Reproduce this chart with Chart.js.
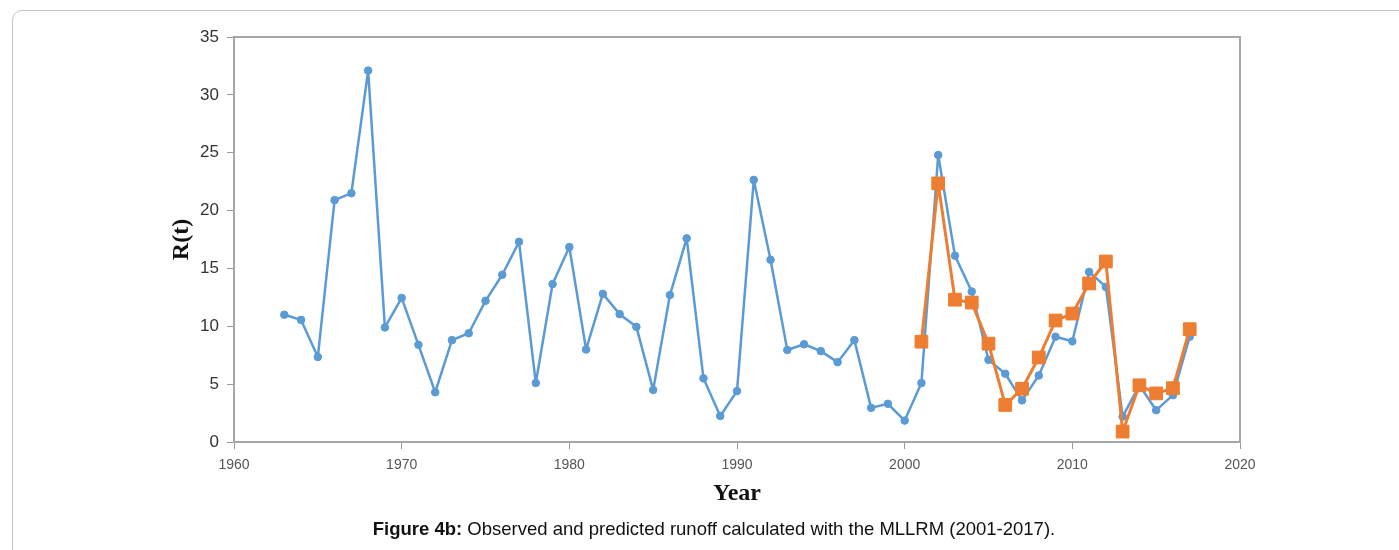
<!DOCTYPE html>
<html>
<head>
<meta charset="utf-8">
<script src="https://cdn.jsdelivr.net/npm/chart.js@4.4.1/dist/chart.umd.min.js"></script>
<style>
  html, body { margin: 0; padding: 0; background: #ffffff; width: 1399px; height: 550px; overflow: hidden; }
  #card { position: absolute; left: 12px; top: 10px; width: 1420px; height: 580px; border: 1px solid #c4c4c4; border-radius: 10px; box-sizing: border-box; }
  #chart { position: absolute; left: 0; top: 0; }
  #caption { position: absolute; left: 0; width: 1428px; top: 518px; text-align: center; font-family: "Liberation Sans", Arial, sans-serif; font-size: 18.5px; line-height: 22px; color: #111; }
</style>
</head>
<body>
<div id="card"></div>
<canvas id="chart" width="1399" height="550"></canvas>
<div id="caption"><b>Figure 4b:</b> Observed and predicted runoff calculated with the MLLRM (2001-2017).</div>
<script>
// Observed runoff R(t), 1963-2017
const observedYears = [1963,1964,1965,1966,1967,1968,1969,1970,1971,1972,1973,1974,1975,1976,1977,1978,1979,1980,
  1981,1982,1983,1984,1985,1986,1987,1988,1989,1990,1991,1992,1993,1994,1995,1996,1997,1998,1999,2000,
  2001,2002,2003,2004,2005,2006,2007,2008,2009,2010,2011,2012,2013,2014,2015,2016,2017];
const observedValues = [11.0,10.55,7.35,20.9,21.5,32.1,9.9,12.45,8.4,4.3,8.8,9.4,12.2,14.45,17.3,5.1,13.65,16.85,
  8.0,12.8,11.05,9.95,4.5,12.7,17.6,5.5,2.25,4.4,22.65,15.75,7.95,8.45,7.85,6.9,8.8,2.95,3.3,1.85,
  5.1,24.8,16.1,13.0,7.1,5.9,3.6,5.75,9.1,8.7,14.7,13.4,2.2,4.9,2.75,4.05,9.1];
// Predicted runoff (MLLRM), 2001-2017
const predictedYears = [2001,2002,2003,2004,2005,2006,2007,2008,2009,2010,2011,2012,2013,2014,2015,2016,2017];
const predictedValues = [8.67,22.35,12.3,12.05,8.5,3.2,4.6,7.3,10.5,11.1,13.7,15.6,0.9,4.9,4.2,4.65,9.75];
// Axis ticks
const xTicks = [1960,1970,1980,1990,2000,2010,2020];
const yTicks = [0,5,10,15,20,25,30,35];

const toPoints = (xs, ys) => xs.map((x, i) => ({ x: x, y: ys[i] }));

const frame = {
  id: 'frame',
  afterDraw(chart) {
    const { ctx, chartArea: a } = chart;
    ctx.save();
    ctx.strokeStyle = '#a6a6a6';
    ctx.lineWidth = 2;
    ctx.beginPath();
    ctx.moveTo(a.left, a.top);
    ctx.lineTo(a.right, a.top);
    ctx.lineTo(a.right, a.bottom);
    ctx.stroke();
    ctx.restore();
  }
};

new Chart(document.getElementById('chart'), {
  type: 'line',
  data: {
    datasets: [
      {
        label: 'Observed',
        order: 2,
        data: toPoints(observedYears, observedValues),
        borderColor: '#5B9BD5',
        backgroundColor: '#5B9BD5',
        borderWidth: 2.5,
        borderJoinStyle: 'round',
        pointRadius: 3.8,
        pointHoverRadius: 3.8,
        pointBorderWidth: 1,
        pointStyle: 'circle',
        tension: 0
      },
      {
        label: 'Predicted',
        order: 1,
        data: toPoints(predictedYears, predictedValues),
        borderColor: '#ED7D31',
        backgroundColor: '#ED7D31',
        borderWidth: 3,
        borderJoinStyle: 'round',
        pointRadius: 9,
        pointHoverRadius: 9,
        pointBorderWidth: 1,
        pointStyle: 'rect',
        tension: 0
      }
    ]
  },
  options: {
    responsive: false,
    animation: false,
    devicePixelRatio: 1,
    layout: { padding: { left: 167, right: 159, top: 37, bottom: 42 } },
    plugins: { legend: { display: false }, tooltip: { enabled: false } },
    scales: {
      x: {
        type: 'linear',
        min: xTicks[0],
        max: xTicks[xTicks.length - 1],
        afterFit(s) { s.height = 66; },
        afterBuildTicks(s) { s.ticks = xTicks.map(v => ({ value: v })); },
        grid: { drawOnChartArea: false, drawTicks: true, tickLength: 7, color: '#999', lineWidth: 1 },
        border: { display: true, color: '#a6a6a6', width: 2 },
        ticks: {
          padding: 8,
          color: '#555',
          font: { family: '"Liberation Sans Narrow", "Arial Narrow", "Liberation Sans", sans-serif', size: 14 },
          callback: v => String(v),
          maxRotation: 0
        },
        title: {
          display: true,
          text: 'Year',
          color: '#111',
          padding: 0,
          font: { family: '"Liberation Serif", "Times New Roman", serif', size: 24, weight: 'bold' }
        }
      },
      y: {
        min: yTicks[0],
        max: yTicks[yTicks.length - 1],
        afterFit(s) { s.width = 67; },
        afterBuildTicks(s) { s.ticks = yTicks.map(v => ({ value: v })); },
        grid: { drawOnChartArea: false, drawTicks: true, tickLength: 7, color: '#999', lineWidth: 1 },
        border: { display: true, color: '#a6a6a6', width: 2 },
        ticks: {
          padding: 8,
          color: '#333',
          font: { family: '"Liberation Sans", Arial, sans-serif', size: 17 }
        },
        title: {
          display: true,
          text: 'R(t)',
          color: '#111',
          padding: 0,
          font: { family: '"Liberation Serif", "Times New Roman", serif', size: 24, weight: 'bold' }
        }
      }
    }
  },
  plugins: [frame]
});
</script>
</body>
</html>
